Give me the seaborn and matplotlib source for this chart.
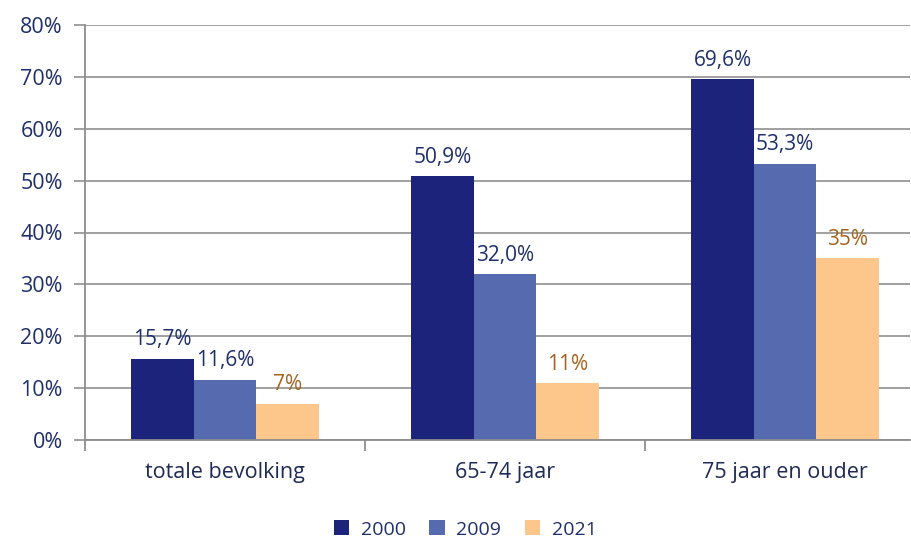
import numpy as np
import pandas as pd
import matplotlib
matplotlib.use('Agg')
import matplotlib.pyplot as plt
import seaborn as sns

# data
categories = ['totale bevolking', '65-74 jaar', '75 jaar en ouder']
years = ['2000', '2009', '2021']
vals_2000 = [15.7, 50.9, 69.6]
vals_2009 = [11.6, 32.0, 53.3]
vals_2021 = [7, 11, 35]
labels_2000 = ['15,7%', '50,9%', '69,6%']
labels_2009 = ['11,6%', '32,0%', '53,3%']
labels_2021 = ['7%', '11%', '35%']
yticks = [0, 10, 20, 30, 40, 50, 60, 70, 80]

df = pd.DataFrame({
    'groep': categories * 3,
    'jaar': [y for y in years for _ in categories],
    'waarde': vals_2000 + vals_2009 + vals_2021,
})

navy = '#1F2F6B'
palette = {'2000': '#1B237A', '2009': '#566AB0', '2021': '#FDC68A'}

sns.set_style('white')
plt.rcParams['font.family'] = ['Open Sans', 'DejaVu Sans']

fig = plt.figure(figsize=(9.12, 5.42), dpi=100)
ax = fig.add_axes([85 / 912, 102 / 542, 825 / 912, 415 / 542])

sns.barplot(data=df, x='groep', y='waarde', hue='jaar', palette=palette,
            width=0.67, ax=ax, saturation=1, legend=True, linewidth=0)

for cont, labs, col in zip(ax.containers, [labels_2000, labels_2009, labels_2021],
                           [navy, navy, '#A5621E']):
    ax.bar_label(cont, labels=labs, padding=6, fontsize=15, color=col)

ax.set_ylim(0, 80)
ax.set_xlim(-0.5, 2.446)
ax.set_yticks(yticks)
ax.set_yticklabels([f'{t}%' for t in yticks], fontsize=15.5, color=navy)
ax.set_xticks(range(3))
ax.set_xticklabels(categories, fontsize=15.5, color='#1F2A55')
ax.set_xticks([-0.5, 0.5, 1.5], minor=True)
ax.set_xlabel('')
ax.set_ylabel('')

ax.yaxis.grid(True, color='#999999', linewidth=1.3)
ax.set_axisbelow(True)
for s in ['top', 'right']:
    ax.spines[s].set_visible(False)
for s in ['left', 'bottom']:
    ax.spines[s].set_color('#8C8C8C')
    ax.spines[s].set_linewidth(1.3)
ax.tick_params(axis='y', which='major', length=8, width=1.3, color='#999999',
               left=True, direction='out', pad=8)
ax.tick_params(axis='x', which='major', length=0, pad=16)
ax.tick_params(axis='x', which='minor', length=8, width=1.3, color='#8C8C8C',
               bottom=True, direction='out')

handles, labs = ax.get_legend_handles_labels()
ax.legend(handles, labs, loc='lower center', bbox_to_anchor=(0.51, -0.008),
          bbox_transform=fig.transFigure, ncol=3, frameon=False,
          fontsize=14, handlelength=0.8, handleheight=0.8, columnspacing=1.2,
          handletextpad=0.6, labelcolor=navy, borderaxespad=0.0)

fig.savefig('out.png', dpi=100)
